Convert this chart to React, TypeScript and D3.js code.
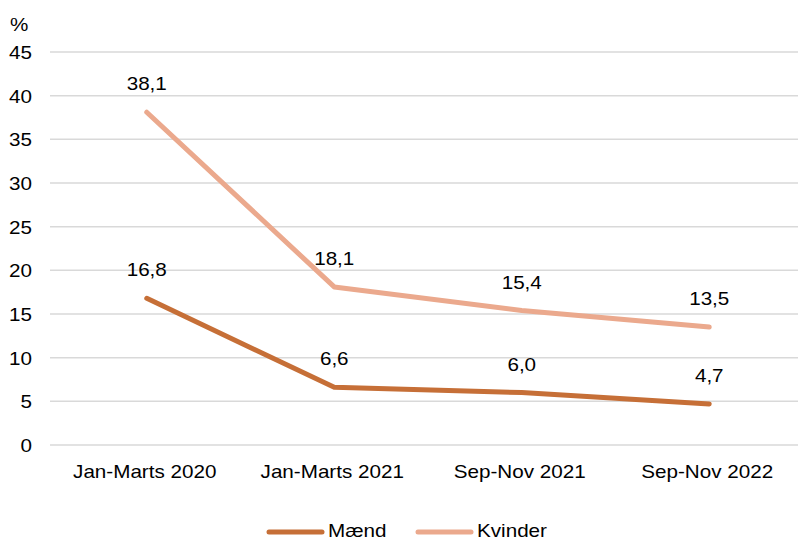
import React from "react";
import * as d3 from "d3";

const categories = ["Jan-Marts 2020", "Jan-Marts 2021", "Sep-Nov 2021", "Sep-Nov 2022"];
const maend = [16.8, 6.6, 6.0, 4.7];
const kvinder = [38.1, 18.1, 15.4, 13.5];
const yTicks = [0, 5, 10, 15, 20, 25, 30, 35, 40, 45];
const seriesNames = ["Mænd", "Kvinder"];
const seriesColors = ["#C66F37", "#EBA98D"];

const W = 798;
const H = 540;
const FS = 17.5;
const SX = 1.18;
const FONT = "'Liberation Sans', Arial, sans-serif";

function T({ x, y, anchor = "middle", children }: any) {
  return (
    <text
      transform={`translate(${x},${y}) scale(${SX},1)`}
      textAnchor={anchor}
      fontSize={FS}
      fontFamily={FONT}
      fill="#000"
    >
      {children}
    </text>
  );
}

export default function App() {
  const x = d3.scaleBand<string>().domain(categories).range([53, 803]);
  const y = d3.scaleLinear().domain([0, 45]).range([445, 52]);
  const cx = (c: string) => (x(c) as number) + x.bandwidth() / 2;
  const line = d3
    .line<number>()
    .x((_, i) => cx(categories[i]))
    .y((d) => y(d));
  const series = [maend, kvinder];
  return (
    <svg
      width={W}
      height={H}
      style={{ position: "absolute", left: 0, top: 0, background: "#fff" }}
    >
      {yTicks.map((t) => (
        <g key={t}>
          <line x1={50} x2={W} y1={y(t)} y2={y(t)} stroke="#d9d9d9" strokeWidth={1.5} />
          <T x={32} y={y(t) + 7} anchor="end">{String(t)}</T>
        </g>
      ))}
      <T x={10} y={31} anchor="start">%</T>
      {categories.map((c) => (
        <T key={c} x={cx(c) - 2} y={478}>{c}</T>
      ))}
      {series.map((s, si) => (
        <path
          key={si}
          d={line(s) as string}
          fill="none"
          stroke={seriesColors[si]}
          strokeWidth={5}
          strokeLinecap="round"
          strokeLinejoin="round"
        />
      ))}
      {series.map((s, si) =>
        s.map((v, i) => (
          <T key={si + "-" + i} x={cx(categories[i])} y={y(v) - 22}>
            {v.toFixed(1).replace(".", ",")}
          </T>
        ))
      )}
      {seriesNames.map((n, i) => {
        const lx = i === 0 ? 269 : 418;
        return (
          <g key={n}>
            <line x1={lx} x2={lx + 53} y1={532} y2={532} stroke={seriesColors[i]} strokeWidth={5} strokeLinecap="round" />
            <T x={lx + 59} y={537} anchor="start">{n}</T>
          </g>
        );
      })}
    </svg>
  );
}
